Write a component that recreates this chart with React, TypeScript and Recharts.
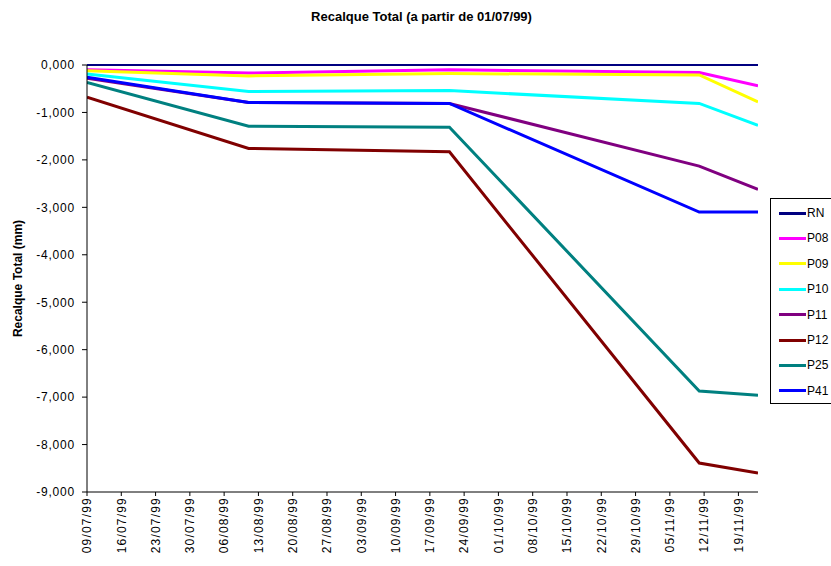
import React from 'react';
import { LineChart, Line, XAxis, YAxis, Legend } from 'recharts';

// Dates of the readings (dd/mm/yy)
const dates = ['09/07/99', '11/08/99', '21/09/99', '11/11/99', '23/11/99'];

// Series values (Recalque Total)
const RN = [0, 0, 0, 0, 0];
const P08 = [-0.1, -0.17, -0.1, -0.16, -0.44];
const P09 = [-0.12, -0.23, -0.18, -0.21, -0.78];
const P10 = [-0.19, -0.56, -0.54, -0.81, -1.27];
const P11 = [-0.28, -0.79, -0.81, -2.13, -2.62];
const P12 = [-0.68, -1.76, -1.83, -8.39, -8.6];
const P25 = [-0.37, -1.29, -1.31, -6.87, -6.96];
const P41 = [-0.26, -0.79, -0.81, -3.1, -3.1];

// X tick labels
const xTickLabels = [
  '09/07/99', '16/07/99', '23/07/99', '30/07/99', '06/08/99', '13/08/99', '20/08/99',
  '27/08/99', '03/09/99', '10/09/99', '17/09/99', '24/09/99', '01/10/99', '08/10/99',
  '15/10/99', '22/10/99', '29/10/99', '05/11/99', '12/11/99', '19/11/99',
];

// Y ticks
const yTicks = [0, -1, -2, -3, -4, -5, -6, -7, -8, -9];

const seriesNames = ['RN', 'P08', 'P09', 'P10', 'P11', 'P12', 'P25', 'P41'];
const seriesValues = [RN, P08, P09, P10, P11, P12, P25, P41];
const seriesColors = ['#000080', '#FF00FF', '#FFFF00', '#00FFFF', '#800080', '#800000', '#008080', '#0000FF'];

const FONT = '"Liberation Sans", Arial, sans-serif';

const dayNum = (s: string) => {
  const [d, m, y] = s.split('/').map(Number);
  return Date.UTC(1900 + y, m - 1, d) / 86400000;
};
const day0 = dayNum(dates[0]);
const toOffset = (s: string) => dayNum(s) - day0;

const data = dates.map((d, i) => {
  const row: any = { t: toOffset(d) };
  seriesNames.forEach((n, k) => {
    row[n] = seriesValues[k][i];
  });
  return row;
});

const xTicks = xTickLabels.map(toOffset);
const labelByOffset: Record<number, string> = {};
xTickLabels.forEach((l) => {
  labelByOffset[toOffset(l)] = l;
});

const fmtY = (v: number) => v.toFixed(3).replace('.', ',');

const XTick = (props: any) => {
  const { x, y, payload } = props;
  return (
    <text
      transform={`translate(${x},${y}) rotate(-90)`}
      textAnchor="end"
      dy="0.36em"
      fontSize={12}
      fontFamily={FONT}
      fill="#000"
      letterSpacing={1.2}
    >
      {labelByOffset[payload.value]}
    </text>
  );
};

const YTick = (props: any) => {
  const { x, y, payload } = props;
  return (
    <text x={x} y={y} dy="0.36em" textAnchor="end" fontSize={12} fontFamily={FONT} fill="#000" letterSpacing={0.8}>
      {fmtY(payload.value)}
    </text>
  );
};

const renderLegend = () => (
  <div
    style={{
      border: '1px solid #000',
      background: '#fff',
      width: 70,
      height: 206,
      boxSizing: 'border-box',
      position: 'relative',
      fontFamily: FONT,
      fontSize: 12,
    }}
  >
    {seriesNames.map((n, i) => (
      <div
        key={n}
        style={{ position: 'absolute', left: 8, top: 14 + i * 25.4 - 8, height: 16, display: 'flex', alignItems: 'center' }}
      >
        <div style={{ width: 27, height: 3, background: seriesColors[i] }} />
        <span style={{ marginLeft: 1, color: '#000' }}>{n}</span>
      </div>
    ))}
  </div>
);

export default function App() {
  return (
    <div style={{ position: 'absolute', left: 0, top: 0, width: 831, height: 566, background: '#fff', overflow: 'hidden' }}>
      <div
        style={{
          position: 'absolute',
          left: 0,
          width: 843,
          top: 9,
          textAlign: 'center',
          fontFamily: FONT,
          fontWeight: 'bold',
          fontSize: 13,
          color: '#000',
        }}
      >
        Recalque Total (a partir de 01/07/99)
      </div>
      <LineChart width={831} height={566} data={data} margin={{ top: 65, right: 73, bottom: 0, left: 0 }}>
        <XAxis
          dataKey="t"
          type="number"
          domain={[0, toOffset(dates[dates.length - 1])]}
          ticks={xTicks}
          tick={<XTick />}
          tickSize={4}
          tickMargin={1}
          height={74}
          interval={0}
          stroke="#000"
          allowDataOverflow
        />
        <YAxis
          type="number"
          domain={[-9, 0]}
          ticks={yTicks}
          tick={<YTick />}
          tickSize={5}
          tickMargin={7}
          width={87}
          interval={0}
          stroke="#000"
          label={(p: any) => {
            const vb = p.viewBox || {};
            const cy = 65 + 427 / 2;
            return (
              <text
                transform={`translate(${18},${cy}) rotate(-90)`}
                textAnchor="middle"
                dy="0.36em"
                fontSize={12}
                fontWeight="bold"
                fontFamily={FONT}
                fill="#000"
              >
                Recalque Total (mm)
              </text>
            );
          }}
        />
        <Legend
          layout="vertical"
          align="center"
          verticalAlign="middle"
          content={renderLegend}
          wrapperStyle={{ position: 'absolute', left: 770, top: 198, width: 70, height: 206 }}
        />
        {seriesNames.map((n, i) => (
          <Line
            key={n}
            type="linear"
            dataKey={n}
            stroke={seriesColors[i]}
            strokeWidth={n === 'RN' ? 2 : 3}
            dot={false}
            activeDot={false}
            isAnimationActive={false}
          />
        ))}
      </LineChart>
    </div>
  );
}
